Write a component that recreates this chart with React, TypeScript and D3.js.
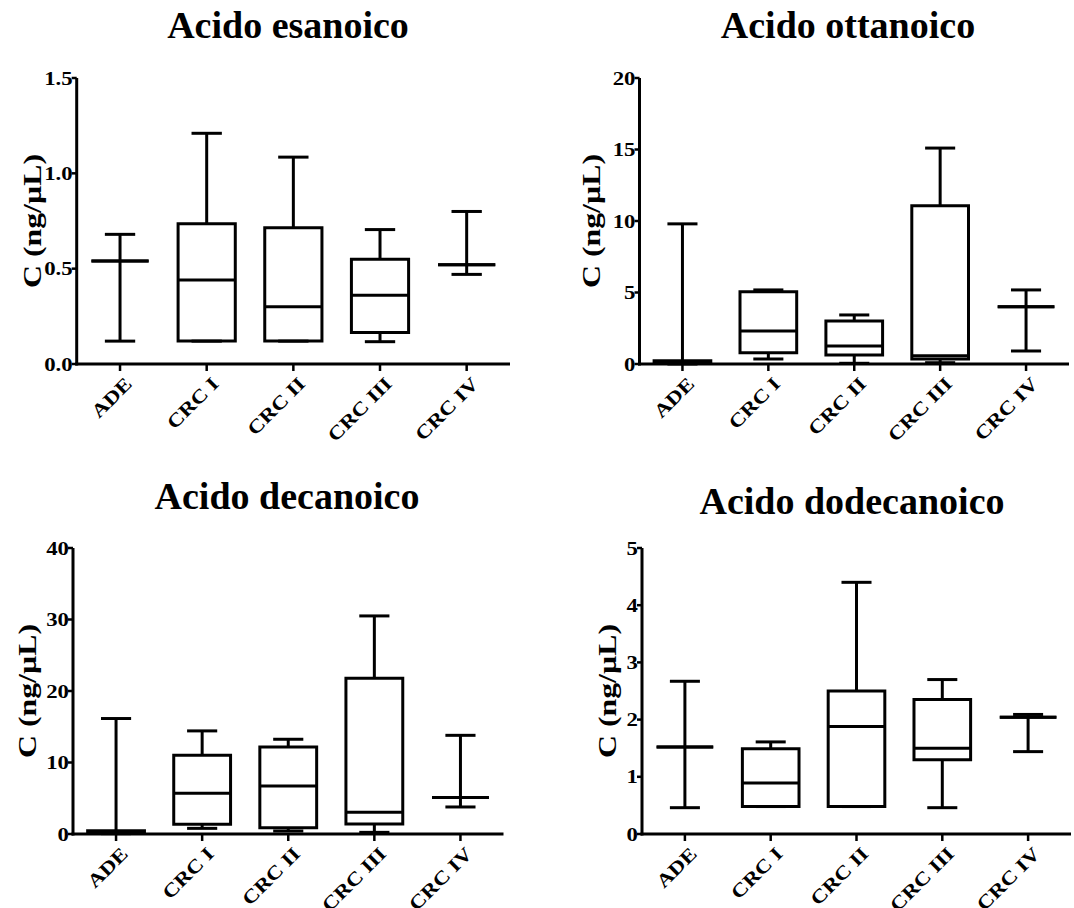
import React, { useRef, useEffect } from 'react';
import * as d3 from 'd3';

const categories = ['ADE', 'CRC I', 'CRC II', 'CRC III', 'CRC IV'];

// Acido esanoico
const esanoicoMin = [0.12, 0.12, 0.12, 0.117, 0.47];
const esanoicoQ1 = [0.54, 0.12, 0.12, 0.165, 0.52];
const esanoicoMedian = [0.54, 0.44, 0.3, 0.36, 0.52];
const esanoicoQ3 = [0.54, 0.735, 0.715, 0.55, 0.52];
const esanoicoMax = [0.68, 1.21, 1.085, 0.705, 0.8];
const esanoicoTicks = [0, 0.5, 1.0, 1.5];

// Acido ottanoico
const ottanoicoMin = [0.0, 0.35, 0.05, 0.09, 0.91];
const ottanoicoQ1 = [0.05, 0.79, 0.63, 0.35, 4.01];
const ottanoicoMedian = [0.12, 2.31, 1.26, 0.58, 4.01];
const ottanoicoQ3 = [0.22, 5.06, 3.01, 11.06, 4.01];
const ottanoicoMax = [9.8, 5.18, 3.43, 15.1, 5.18];
const ottanoicoTicks = [0, 5, 10, 15, 20];

// Acido decanoico
const decanoicoMin = [0.05, 0.79, 0.42, 0.23, 3.78];
const decanoicoQ1 = [0.15, 1.35, 0.89, 1.4, 5.09];
const decanoicoMedian = [0.3, 5.69, 6.72, 3.03, 5.09];
const decanoicoQ3 = [0.45, 11.01, 12.18, 21.8, 5.09];
const decanoicoMax = [16.15, 14.42, 13.25, 30.5, 13.8];
const decanoicoTicks = [0, 10, 20, 30, 40];

// Acido dodecanoico
const dodecanoicoMin = [0.46, 0.48, 0.48, 0.46, 1.44];
const dodecanoicoQ1 = [1.52, 0.48, 0.48, 1.3, 2.04];
const dodecanoicoMedian = [1.52, 0.89, 1.88, 1.5, 2.04];
const dodecanoicoQ3 = [1.52, 1.49, 2.5, 2.35, 2.04];
const dodecanoicoMax = [2.67, 1.61, 4.4, 2.7, 2.09];
const dodecanoicoTicks = [0, 1, 2, 3, 4, 5];

const panels = [
  {
    title: 'Acido esanoico', min: esanoicoMin, q1: esanoicoQ1, median: esanoicoMedian,
    q3: esanoicoQ3, max: esanoicoMax, ticks: esanoicoTicks, fmt: '.1f',
    x0: 76.7, x1: 510, yTop: 78, y0: 364, titleX: 288, titleY: 38, labelOff: 44,
  },
  {
    title: 'Acido ottanoico', min: ottanoicoMin, q1: ottanoicoQ1, median: ottanoicoMedian,
    q3: ottanoicoQ3, max: ottanoicoMax, ticks: ottanoicoTicks, fmt: 'd',
    x0: 639.5, x1: 1069, yTop: 78, y0: 364, titleX: 848, titleY: 38, labelOff: 48,
  },
  {
    title: 'Acido decanoico', min: decanoicoMin, q1: decanoicoQ1, median: decanoicoMedian,
    q3: decanoicoQ3, max: decanoicoMax, ticks: decanoicoTicks, fmt: 'd',
    x0: 73, x1: 503.5, yTop: 548, y0: 834, titleX: 287, titleY: 509, labelOff: 46,
  },
  {
    title: 'Acido dodecanoico', min: dodecanoicoMin, q1: dodecanoicoQ1, median: dodecanoicoMedian,
    q3: dodecanoicoQ3, max: dodecanoicoMax, ticks: dodecanoicoTicks, fmt: 'd',
    x0: 642, x1: 1071, yTop: 548, y0: 834, titleX: 852, titleY: 514, labelOff: 35,
  },
];

const FONT = '"Liberation Serif", "Times New Roman", serif';

const BoxPanels = () => {
  const chartRef = useRef<SVGSVGElement>(null);

  useEffect(() => {
    const svg = d3.select(chartRef.current);
    svg.selectAll('*').remove();

    panels.forEach((p) => {
      const g = svg.append('g').attr('font-family', FONT).attr('font-weight', 'bold');

      const x = d3.scaleBand().domain(categories).range([p.x0, p.x1]).padding(0);
      const y = d3
        .scaleLinear()
        .domain([0, p.ticks[p.ticks.length - 1]])
        .range([p.y0, p.yTop]);

      const boxW = x.bandwidth() * 0.66;
      const capW = x.bandwidth() * 0.35;
      const cx = (c: string) => (x(c) as number) + x.bandwidth() / 2;
      const fmt = d3.format(p.fmt);

      // title
      g.append('text')
        .attr('x', p.titleX)
        .attr('y', p.titleY)
        .attr('text-anchor', 'middle')
        .attr('font-size', 38)
        .text(p.title);

      // y axis title
      g.append('text')
        .attr('transform', `translate(${p.x0 - p.labelOff},${(p.yTop + p.y0) / 2}) rotate(-90)`)
        .attr('text-anchor', 'middle')
        .attr('dominant-baseline', 'central')
        .attr('font-size', 26)
        .attr('textLength', 134)
        .attr('lengthAdjust', 'spacingAndGlyphs')
        .text('C (ng/µL)');

      // axes
      g.append('line')
        .attr('x1', p.x0).attr('x2', p.x0)
        .attr('y1', p.yTop).attr('y2', p.y0 + 1.5)
        .attr('stroke', '#000').attr('stroke-width', 3);
      g.append('line')
        .attr('x1', p.x0 - 1.5).attr('x2', p.x1)
        .attr('y1', p.y0).attr('y2', p.y0)
        .attr('stroke', '#000').attr('stroke-width', 3);

      // y ticks
      p.ticks.forEach((t) => {
        g.append('line')
          .attr('x1', p.x0 - 5).attr('x2', p.x0)
          .attr('y1', y(t)).attr('y2', y(t))
          .attr('stroke', '#000').attr('stroke-width', 2.5);
        g.append('g')
          .attr('transform', `translate(${p.x0 - 4},${y(t)}) scale(1.2,1)`)
          .append('text')
          .attr('text-anchor', 'end')
          .attr('dy', '0.35em')
          .attr('font-size', 19)
          .text(fmt(t));
      });

      // x ticks and labels
      categories.forEach((c) => {
        g.append('line')
          .attr('x1', cx(c)).attr('x2', cx(c))
          .attr('y1', p.y0).attr('y2', p.y0 + 7)
          .attr('stroke', '#000').attr('stroke-width', 2.5);
        g.append('g')
          .attr('transform', `translate(${cx(c) + 13},${p.y0 + 21}) rotate(-45) scale(1.2,1)`)
          .append('text')
          .attr('text-anchor', 'end')
          .attr('font-size', 19)
          .text(c);
      });

      // boxes
      categories.forEach((c, i) => {
        const xc = cx(c);
        const line = (x1: number, x2: number, y1: number, y2: number) =>
          g.append('line')
            .attr('x1', x1).attr('x2', x2)
            .attr('y1', y1).attr('y2', y2)
            .attr('stroke', '#000').attr('stroke-width', 3);

        line(xc, xc, y(p.max[i]), y(p.q3[i]));
        line(xc, xc, y(p.q1[i]), y(p.min[i]));
        line(xc - capW / 2, xc + capW / 2, y(p.max[i]), y(p.max[i]));
        line(xc - capW / 2, xc + capW / 2, y(p.min[i]), y(p.min[i]));

        const bx0 = xc - boxW / 2;
        const bx1 = xc + boxW / 2;
        g.append('path')
          .attr('d', `M${bx0},${y(p.q3[i])}H${bx1}V${y(p.q1[i])}H${bx0}Z`)
          .attr('fill', 'none')
          .attr('stroke', '#000')
          .attr('stroke-width', 3);
        line(bx0, bx1, y(p.median[i]), y(p.median[i]));
      });
    });
  }, []);

  return (
    <svg
      ref={chartRef}
      width={1074}
      height={908}
      style={{ position: 'absolute', left: 0, top: 0, background: '#fff' }}
    ></svg>
  );
};

export default function App() {
  return <BoxPanels />;
}
